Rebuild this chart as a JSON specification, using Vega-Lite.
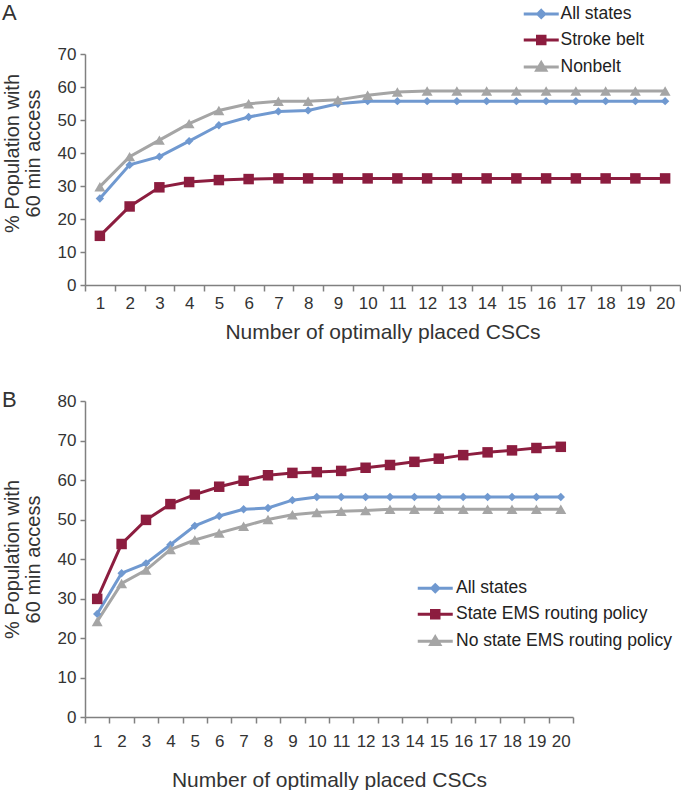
{
  "$schema": "https://vega.github.io/schema/vega-lite/v6.json",
  "padding": {"left": 2, "top": 2, "right": 0, "bottom": 0},
  "config": {
    "font": "Liberation Sans",
    "view": {"stroke": null},
    "axis": {
      "grid": false,
      "domainColor": "#808080",
      "tickColor": "#808080",
      "domainWidth": 1.5,
      "tickWidth": 1.5,
      "labelFontSize": 17,
      "labelColor": "#333333",
      "titleFontSize": 21,
      "titleFontWeight": "normal",
      "titleColor": "#333333",
      "labelFont": "Liberation Sans",
      "titleFont": "Liberation Sans"
    },
    "legend": {"symbolStrokeWidth": 3, "symbolOpacity": 1},
    "title": {"fontSize": 22, "fontWeight": "normal", "color": "#333333", "anchor": "start", "font": "Liberation Sans"}
  },
  "datasets": {
    "panelA": [
      {"n": 1, "series": "All states", "pct": 26.2},
      {"n": 2, "series": "All states", "pct": 36.4},
      {"n": 3, "series": "All states", "pct": 38.9},
      {"n": 4, "series": "All states", "pct": 43.6},
      {"n": 5, "series": "All states", "pct": 48.4},
      {"n": 6, "series": "All states", "pct": 50.9},
      {"n": 7, "series": "All states", "pct": 52.6},
      {"n": 8, "series": "All states", "pct": 52.9},
      {"n": 9, "series": "All states", "pct": 54.9},
      {"n": 10, "series": "All states", "pct": 55.7},
      {"n": 11, "series": "All states", "pct": 55.7},
      {"n": 12, "series": "All states", "pct": 55.7},
      {"n": 13, "series": "All states", "pct": 55.7},
      {"n": 14, "series": "All states", "pct": 55.7},
      {"n": 15, "series": "All states", "pct": 55.7},
      {"n": 16, "series": "All states", "pct": 55.7},
      {"n": 17, "series": "All states", "pct": 55.7},
      {"n": 18, "series": "All states", "pct": 55.7},
      {"n": 19, "series": "All states", "pct": 55.7},
      {"n": 20, "series": "All states", "pct": 55.7},
      {"n": 1, "series": "Stroke belt", "pct": 14.9},
      {"n": 2, "series": "Stroke belt", "pct": 23.8},
      {"n": 3, "series": "Stroke belt", "pct": 29.6},
      {"n": 4, "series": "Stroke belt", "pct": 31.2},
      {"n": 5, "series": "Stroke belt", "pct": 31.8},
      {"n": 6, "series": "Stroke belt", "pct": 32.1},
      {"n": 7, "series": "Stroke belt", "pct": 32.3},
      {"n": 8, "series": "Stroke belt", "pct": 32.3},
      {"n": 9, "series": "Stroke belt", "pct": 32.3},
      {"n": 10, "series": "Stroke belt", "pct": 32.3},
      {"n": 11, "series": "Stroke belt", "pct": 32.3},
      {"n": 12, "series": "Stroke belt", "pct": 32.3},
      {"n": 13, "series": "Stroke belt", "pct": 32.3},
      {"n": 14, "series": "Stroke belt", "pct": 32.3},
      {"n": 15, "series": "Stroke belt", "pct": 32.3},
      {"n": 16, "series": "Stroke belt", "pct": 32.3},
      {"n": 17, "series": "Stroke belt", "pct": 32.3},
      {"n": 18, "series": "Stroke belt", "pct": 32.3},
      {"n": 19, "series": "Stroke belt", "pct": 32.3},
      {"n": 20, "series": "Stroke belt", "pct": 32.3},
      {"n": 1, "series": "Nonbelt", "pct": 29.8},
      {"n": 2, "series": "Nonbelt", "pct": 38.9},
      {"n": 3, "series": "Nonbelt", "pct": 43.9},
      {"n": 4, "series": "Nonbelt", "pct": 48.9},
      {"n": 5, "series": "Nonbelt", "pct": 52.9},
      {"n": 6, "series": "Nonbelt", "pct": 54.9},
      {"n": 7, "series": "Nonbelt", "pct": 55.7},
      {"n": 8, "series": "Nonbelt", "pct": 55.7},
      {"n": 9, "series": "Nonbelt", "pct": 56.1},
      {"n": 10, "series": "Nonbelt", "pct": 57.5},
      {"n": 11, "series": "Nonbelt", "pct": 58.5},
      {"n": 12, "series": "Nonbelt", "pct": 58.8},
      {"n": 13, "series": "Nonbelt", "pct": 58.8},
      {"n": 14, "series": "Nonbelt", "pct": 58.8},
      {"n": 15, "series": "Nonbelt", "pct": 58.8},
      {"n": 16, "series": "Nonbelt", "pct": 58.8},
      {"n": 17, "series": "Nonbelt", "pct": 58.8},
      {"n": 18, "series": "Nonbelt", "pct": 58.8},
      {"n": 19, "series": "Nonbelt", "pct": 58.8},
      {"n": 20, "series": "Nonbelt", "pct": 58.8}
    ],
    "panelB": [
      {"n": 1, "series": "All states", "pct": 26.1},
      {"n": 2, "series": "All states", "pct": 36.4},
      {"n": 3, "series": "All states", "pct": 38.9},
      {"n": 4, "series": "All states", "pct": 43.6},
      {"n": 5, "series": "All states", "pct": 48.4},
      {"n": 6, "series": "All states", "pct": 50.9},
      {"n": 7, "series": "All states", "pct": 52.6},
      {"n": 8, "series": "All states", "pct": 52.9},
      {"n": 9, "series": "All states", "pct": 54.9},
      {"n": 10, "series": "All states", "pct": 55.7},
      {"n": 11, "series": "All states", "pct": 55.7},
      {"n": 12, "series": "All states", "pct": 55.7},
      {"n": 13, "series": "All states", "pct": 55.7},
      {"n": 14, "series": "All states", "pct": 55.7},
      {"n": 15, "series": "All states", "pct": 55.7},
      {"n": 16, "series": "All states", "pct": 55.7},
      {"n": 17, "series": "All states", "pct": 55.7},
      {"n": 18, "series": "All states", "pct": 55.7},
      {"n": 19, "series": "All states", "pct": 55.7},
      {"n": 20, "series": "All states", "pct": 55.7},
      {"n": 1, "series": "State EMS routing policy", "pct": 29.9},
      {"n": 2, "series": "State EMS routing policy", "pct": 43.8},
      {"n": 3, "series": "State EMS routing policy", "pct": 49.9},
      {"n": 4, "series": "State EMS routing policy", "pct": 53.9},
      {"n": 5, "series": "State EMS routing policy", "pct": 56.3},
      {"n": 6, "series": "State EMS routing policy", "pct": 58.3},
      {"n": 7, "series": "State EMS routing policy", "pct": 59.8},
      {"n": 8, "series": "State EMS routing policy", "pct": 61.2},
      {"n": 9, "series": "State EMS routing policy", "pct": 61.8},
      {"n": 10, "series": "State EMS routing policy", "pct": 62.0},
      {"n": 11, "series": "State EMS routing policy", "pct": 62.3},
      {"n": 12, "series": "State EMS routing policy", "pct": 63.1},
      {"n": 13, "series": "State EMS routing policy", "pct": 63.8},
      {"n": 14, "series": "State EMS routing policy", "pct": 64.6},
      {"n": 15, "series": "State EMS routing policy", "pct": 65.4},
      {"n": 16, "series": "State EMS routing policy", "pct": 66.3},
      {"n": 17, "series": "State EMS routing policy", "pct": 67.0},
      {"n": 18, "series": "State EMS routing policy", "pct": 67.5},
      {"n": 19, "series": "State EMS routing policy", "pct": 68.1},
      {"n": 20, "series": "State EMS routing policy", "pct": 68.4},
      {"n": 1, "series": "No state EMS routing policy", "pct": 24.2},
      {"n": 2, "series": "No state EMS routing policy", "pct": 33.8},
      {"n": 3, "series": "No state EMS routing policy", "pct": 37.2},
      {"n": 4, "series": "No state EMS routing policy", "pct": 42.4},
      {"n": 5, "series": "No state EMS routing policy", "pct": 44.8},
      {"n": 6, "series": "No state EMS routing policy", "pct": 46.6},
      {"n": 7, "series": "No state EMS routing policy", "pct": 48.3},
      {"n": 8, "series": "No state EMS routing policy", "pct": 50.0},
      {"n": 9, "series": "No state EMS routing policy", "pct": 51.2},
      {"n": 10, "series": "No state EMS routing policy", "pct": 51.8},
      {"n": 11, "series": "No state EMS routing policy", "pct": 52.1},
      {"n": 12, "series": "No state EMS routing policy", "pct": 52.3},
      {"n": 13, "series": "No state EMS routing policy", "pct": 52.6},
      {"n": 14, "series": "No state EMS routing policy", "pct": 52.6},
      {"n": 15, "series": "No state EMS routing policy", "pct": 52.6},
      {"n": 16, "series": "No state EMS routing policy", "pct": 52.6},
      {"n": 17, "series": "No state EMS routing policy", "pct": 52.6},
      {"n": 18, "series": "No state EMS routing policy", "pct": 52.6},
      {"n": 19, "series": "No state EMS routing policy", "pct": 52.6},
      {"n": 20, "series": "No state EMS routing policy", "pct": 52.6}
    ]
  },
  "spacing": 47,
  "resolve": {
    "scale": {"color": "independent", "shape": "independent", "stroke": "independent", "x": "independent", "y": "independent"},
    "legend": {"color": "independent", "shape": "independent", "stroke": "independent"}
  },
  "vconcat": [
    {
      "width": 595,
      "height": 231,
      "title": {"text": "A", "dx": 0, "dy": 24},
      "data": {"name": "panelA"},
      "encoding": {
        "x": {
          "field": "n", "type": "ordinal",
          "scale": {"type": "band", "paddingInner": 0, "paddingOuter": 0},
          "axis": {"title": "Number of optimally placed CSCs", "labelAngle": 0, "tickBand": "extent", "tickSize": 6, "labelPadding": 4, "titlePadding": 10}
        },
        "y": {
          "field": "pct", "type": "quantitative",
          "scale": {"domain": [0, 70], "nice": false},
          "axis": {"values": [0, 10, 20, 30, 40, 50, 60, 70], "title": ["% Population with", "60 min access"], "tickSize": 5, "labelPadding": 4, "titlePadding": 14, "titleFontSize": 20, "titleLineHeight": 21, "titleY": 99}
        },
        "color": {
          "field": "series", "type": "nominal",
          "scale": {"domain": ["All states", "Stroke belt", "Nonbelt"], "range": ["#7099d0", "#8c1d3f", "#a5a5a5"]},
          "legend": {
            "title": null, "orient": "none", "legendX": 447.5, "legendY": -48.8, "padding": 0,
            "symbolSize": 100, "labelOffset": 10.5, "rowPadding": 6, "labelFontSize": 17.5, "labelColor": "#222222", "labelFont": "Liberation Sans", "labelLimit": 400
          }
        }
      },
      "layer": [
        {"mark": {"type": "line", "strokeWidth": 3}},
        {
          "transform": [{"filter": "datum.series === 'All states'"}],
          "mark": {"type": "point", "filled": true, "opacity": 1, "shape": "diamond", "size": 70}
        },
        {
          "transform": [{"filter": "datum.series === 'Stroke belt'"}],
          "mark": {"type": "point", "filled": true, "opacity": 1, "shape": "square", "size": 110}
        },
        {
          "transform": [{"filter": "datum.series === 'Nonbelt'"}],
          "mark": {"type": "point", "filled": true, "opacity": 1, "shape": "triangle-up", "size": 120}
        },
        {
          "transform": [{"filter": "false"}],
          "mark": {"type": "point", "filled": true, "opacity": 1},
          "encoding": {
            "shape": {
              "field": "series", "type": "nominal",
              "scale": {"domain": ["All states", "Stroke belt", "Nonbelt"], "range": ["M-3.5,0L3.5,0M0,-0.7L0.7,0L0,0.7L-0.7,0Z", "M-3.5,0L3.5,0M-0.75,-0.75L0.75,-0.75L0.75,0.75L-0.75,0.75Z", "M-3.5,0L3.5,0M0,-0.85L0.9,0.65L-0.9,0.65Z"]},
              "legend": {"title": null, "orient": "none", "legendX": 447.5, "legendY": -48.8, "padding": 0, "symbolSize": 100, "labelOffset": 10.5, "rowPadding": 6, "labelFontSize": 17.5, "labelColor": "#222222", "labelFont": "Liberation Sans", "labelLimit": 400}
            },
            "stroke": {
              "field": "series", "type": "nominal",
              "scale": {"domain": ["All states", "Stroke belt", "Nonbelt"], "range": ["#7099d0", "#8c1d3f", "#a5a5a5"]},
              "legend": {"title": null, "orient": "none", "legendX": 447.5, "legendY": -48.8, "padding": 0, "symbolSize": 100, "labelOffset": 10.5, "rowPadding": 6, "labelFontSize": 17.5, "labelColor": "#222222", "labelFont": "Liberation Sans", "labelLimit": 400}
            }
          }
        }
      ]
    },
    {
      "width": 488,
      "height": 316,
      "title": {"text": "B", "dx": 0, "dy": 24},
      "data": {"name": "panelB"},
      "encoding": {
        "x": {
          "field": "n", "type": "ordinal",
          "scale": {"type": "band", "paddingInner": 0, "paddingOuter": 0},
          "axis": {"title": "Number of optimally placed CSCs", "labelAngle": 0, "tickBand": "extent", "tickSize": 6, "labelPadding": 10, "titlePadding": 20}
        },
        "y": {
          "field": "pct", "type": "quantitative",
          "scale": {"domain": [0, 80], "nice": false},
          "axis": {"values": [0, 10, 20, 30, 40, 50, 60, 70, 80], "title": ["% Population with", "60 min access"], "tickSize": 5, "labelPadding": 4, "titlePadding": 14, "titleFontSize": 20, "titleLineHeight": 21}
        },
        "color": {
          "field": "series", "type": "nominal",
          "scale": {"domain": ["All states", "State EMS routing policy", "No state EMS routing policy"], "range": ["#7099d0", "#8c1d3f", "#a5a5a5"]},
          "legend": {
            "title": null, "orient": "none", "legendX": 341.5, "legendY": 178.5, "padding": 0,
            "symbolSize": 100, "labelOffset": 12, "rowPadding": 6, "labelFontSize": 17.5, "labelColor": "#222222", "labelFont": "Liberation Sans", "labelLimit": 400
          }
        }
      },
      "layer": [
        {"mark": {"type": "line", "strokeWidth": 3}},
        {
          "transform": [{"filter": "datum.series === 'All states'"}],
          "mark": {"type": "point", "filled": true, "opacity": 1, "shape": "diamond", "size": 70}
        },
        {
          "transform": [{"filter": "datum.series === 'State EMS routing policy'"}],
          "mark": {"type": "point", "filled": true, "opacity": 1, "shape": "square", "size": 110}
        },
        {
          "transform": [{"filter": "datum.series === 'No state EMS routing policy'"}],
          "mark": {"type": "point", "filled": true, "opacity": 1, "shape": "triangle-up", "size": 120}
        },
        {
          "transform": [{"filter": "false"}],
          "mark": {"type": "point", "filled": true, "opacity": 1},
          "encoding": {
            "shape": {
              "field": "series", "type": "nominal",
              "scale": {"domain": ["All states", "State EMS routing policy", "No state EMS routing policy"], "range": ["M-3.5,0L3.5,0M0,-0.7L0.7,0L0,0.7L-0.7,0Z", "M-3.5,0L3.5,0M-0.75,-0.75L0.75,-0.75L0.75,0.75L-0.75,0.75Z", "M-3.5,0L3.5,0M0,-0.85L0.9,0.65L-0.9,0.65Z"]},
              "legend": {"title": null, "orient": "none", "legendX": 341.5, "legendY": 178.5, "padding": 0, "symbolSize": 100, "labelOffset": 12, "rowPadding": 6, "labelFontSize": 17.5, "labelColor": "#222222", "labelFont": "Liberation Sans", "labelLimit": 400}
            },
            "stroke": {
              "field": "series", "type": "nominal",
              "scale": {"domain": ["All states", "State EMS routing policy", "No state EMS routing policy"], "range": ["#7099d0", "#8c1d3f", "#a5a5a5"]},
              "legend": {"title": null, "orient": "none", "legendX": 341.5, "legendY": 178.5, "padding": 0, "symbolSize": 100, "labelOffset": 12, "rowPadding": 6, "labelFontSize": 17.5, "labelColor": "#222222", "labelFont": "Liberation Sans", "labelLimit": 400}
            }
          }
        }
      ]
    }
  ]
}
